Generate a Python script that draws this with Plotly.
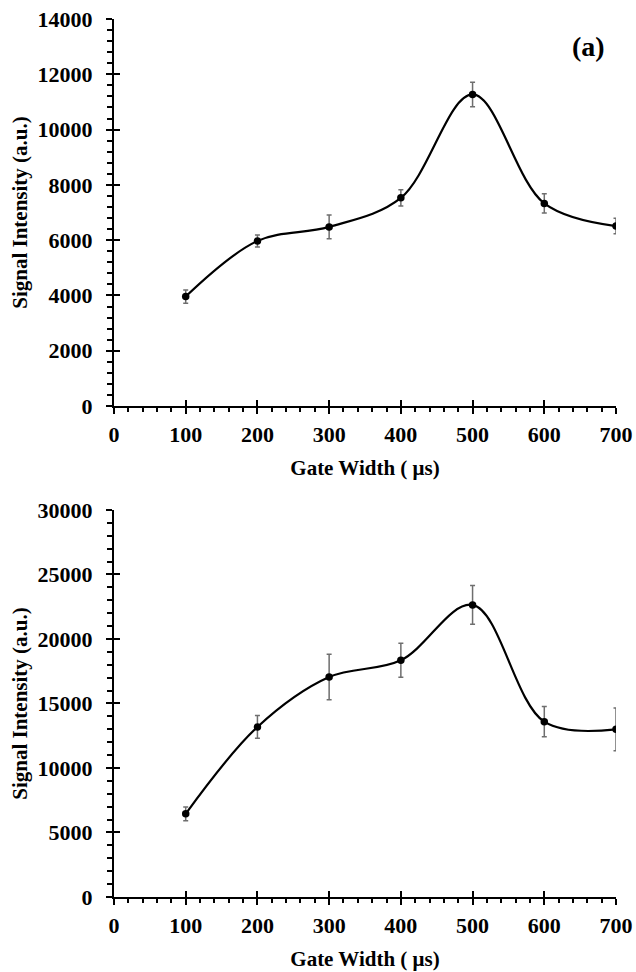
import plotly.graph_objects as go

gate_width = [100, 200, 300, 400, 500, 600, 700]

signal_a = [3960, 5970, 6480, 7530, 11270, 7330, 6510]
error_a = [240, 220, 430, 290, 440, 350, 280]

signal_b = [6450, 13180, 17050, 18350, 22640, 13590, 13000]
error_b = [530, 880, 1760, 1320, 1500, 1170, 1660]

x_ticks = [0, 100, 200, 300, 400, 500, 600, 700]
y_ticks_a = [0, 2000, 4000, 6000, 8000, 10000, 12000, 14000]
y_ticks_b = [0, 5000, 10000, 15000, 20000, 25000, 30000]

FONT = "Liberation Serif"
tickfont = dict(family=FONT, size=22, color="black", weight="bold")
titlefont = dict(family=FONT, size=21, color="black", weight="bold")

fig = go.Figure()

for sig, err, xa, ya in [(signal_a, error_a, "x", "y"), (signal_b, error_b, "x2", "y2")]:
    fig.add_trace(go.Scatter(
        x=gate_width, y=sig, xaxis=xa, yaxis=ya,
        mode="lines+markers",
        line=dict(color="black", width=2.2, shape="spline", smoothing=1.0),
        marker=dict(color="black", size=7.5),
        error_y=dict(type="data", array=err, visible=True, color="#6e6e6e",
                     thickness=1.5, width=2.5),
        showlegend=False,
    ))

def xaxis_main(anchor, title):
    return dict(
        anchor=anchor, domain=[0, 1], range=[0, 700], automargin=False,
        tickmode="array", tickvals=x_ticks, tickformat="d",
        ticks="outside", ticklen=6, tickwidth=2, tickcolor="black",
        minor=dict(ticks="outside", dtick=20, ticklen=4, tickwidth=2, tickcolor="black", showgrid=False),
        showline=True, linecolor="black", linewidth=2,
        showgrid=False, zeroline=False,
        tickfont=tickfont, ticklabelstandoff=2,
        title=dict(text=title, font=titlefont, standoff=14),
    )

def yaxis_main(anchor, domain, rng, ticks, dminor):
    return dict(
        anchor=anchor, domain=domain, range=rng, automargin=False,
        tickmode="array", tickvals=ticks, tickformat="d",
        ticks="outside", ticklen=6, tickwidth=2, tickcolor="black",
        minor=dict(ticks="outside", dtick=dminor, ticklen=5, tickwidth=2, tickcolor="black", showgrid=False),
        showline=True, linecolor="black", linewidth=2,
        showgrid=False, zeroline=False,
        tickfont=tickfont, ticklabelstandoff=9,
        title=dict(text="Signal Intensity (a.u.)", font=titlefont, standoff=4),
    )

dom_a = [0.5592, 1.0]
dom_b = [0.0, 0.4408]

def overlay_x(over, anchor):
    return dict(overlaying=over, anchor=anchor, range=[0, 700], tickmode="array", tickvals=x_ticks,
                ticks="inside", ticklen=6, tickwidth=2, tickcolor="black", automargin=False,
                showticklabels=False, showgrid=False, zeroline=False, showline=False)

def overlay_y(over, anchor, rng, ticks):
    return dict(overlaying=over, anchor=anchor, range=rng, tickmode="array", tickvals=ticks,
                ticks="inside", ticklen=6, tickwidth=2, tickcolor="black", automargin=False,
                showticklabels=False, showgrid=False, zeroline=False, showline=False)

fig.update_layout(
    width=636, height=972,
    margin=dict(l=114, r=20, t=19, b=75),
    paper_bgcolor="white", plot_bgcolor="white",
    xaxis=xaxis_main("y", "Gate Width ( μs)"),
    yaxis=yaxis_main("x", dom_a, [0, 14000], y_ticks_a, 400),
    xaxis2=xaxis_main("y2", "Gate Width ( μs)"),
    yaxis2=yaxis_main("x2", dom_b, [0, 30000], y_ticks_b, 1000),
    xaxis3=overlay_x("x", "y"),
    yaxis3=overlay_y("y", "x", [0, 14000], y_ticks_a),
    xaxis4=overlay_x("x2", "y2"),
    yaxis4=overlay_y("y2", "x2", [0, 30000], y_ticks_b),
    annotations=[
        dict(text="(a)", x=688, y=13000, xref="x", yref="y",
             showarrow=False, xanchor="right", yanchor="middle",
             font=dict(family=FONT, size=28, color="black", weight="bold")),
        dict(text="(b)", x=708, y=28990, xref="x2", yref="y2",
             showarrow=False, xanchor="right", yanchor="middle",
             font=dict(family=FONT, size=28, color="black", weight="bold")),
    ],
)

fig.add_trace(go.Scatter(x=[None], y=[None], xaxis="x3", yaxis="y3", showlegend=False, hoverinfo="skip"))
fig.add_trace(go.Scatter(x=[None], y=[None], xaxis="x4", yaxis="y4", showlegend=False, hoverinfo="skip"))

fig.write_html("out.html")
